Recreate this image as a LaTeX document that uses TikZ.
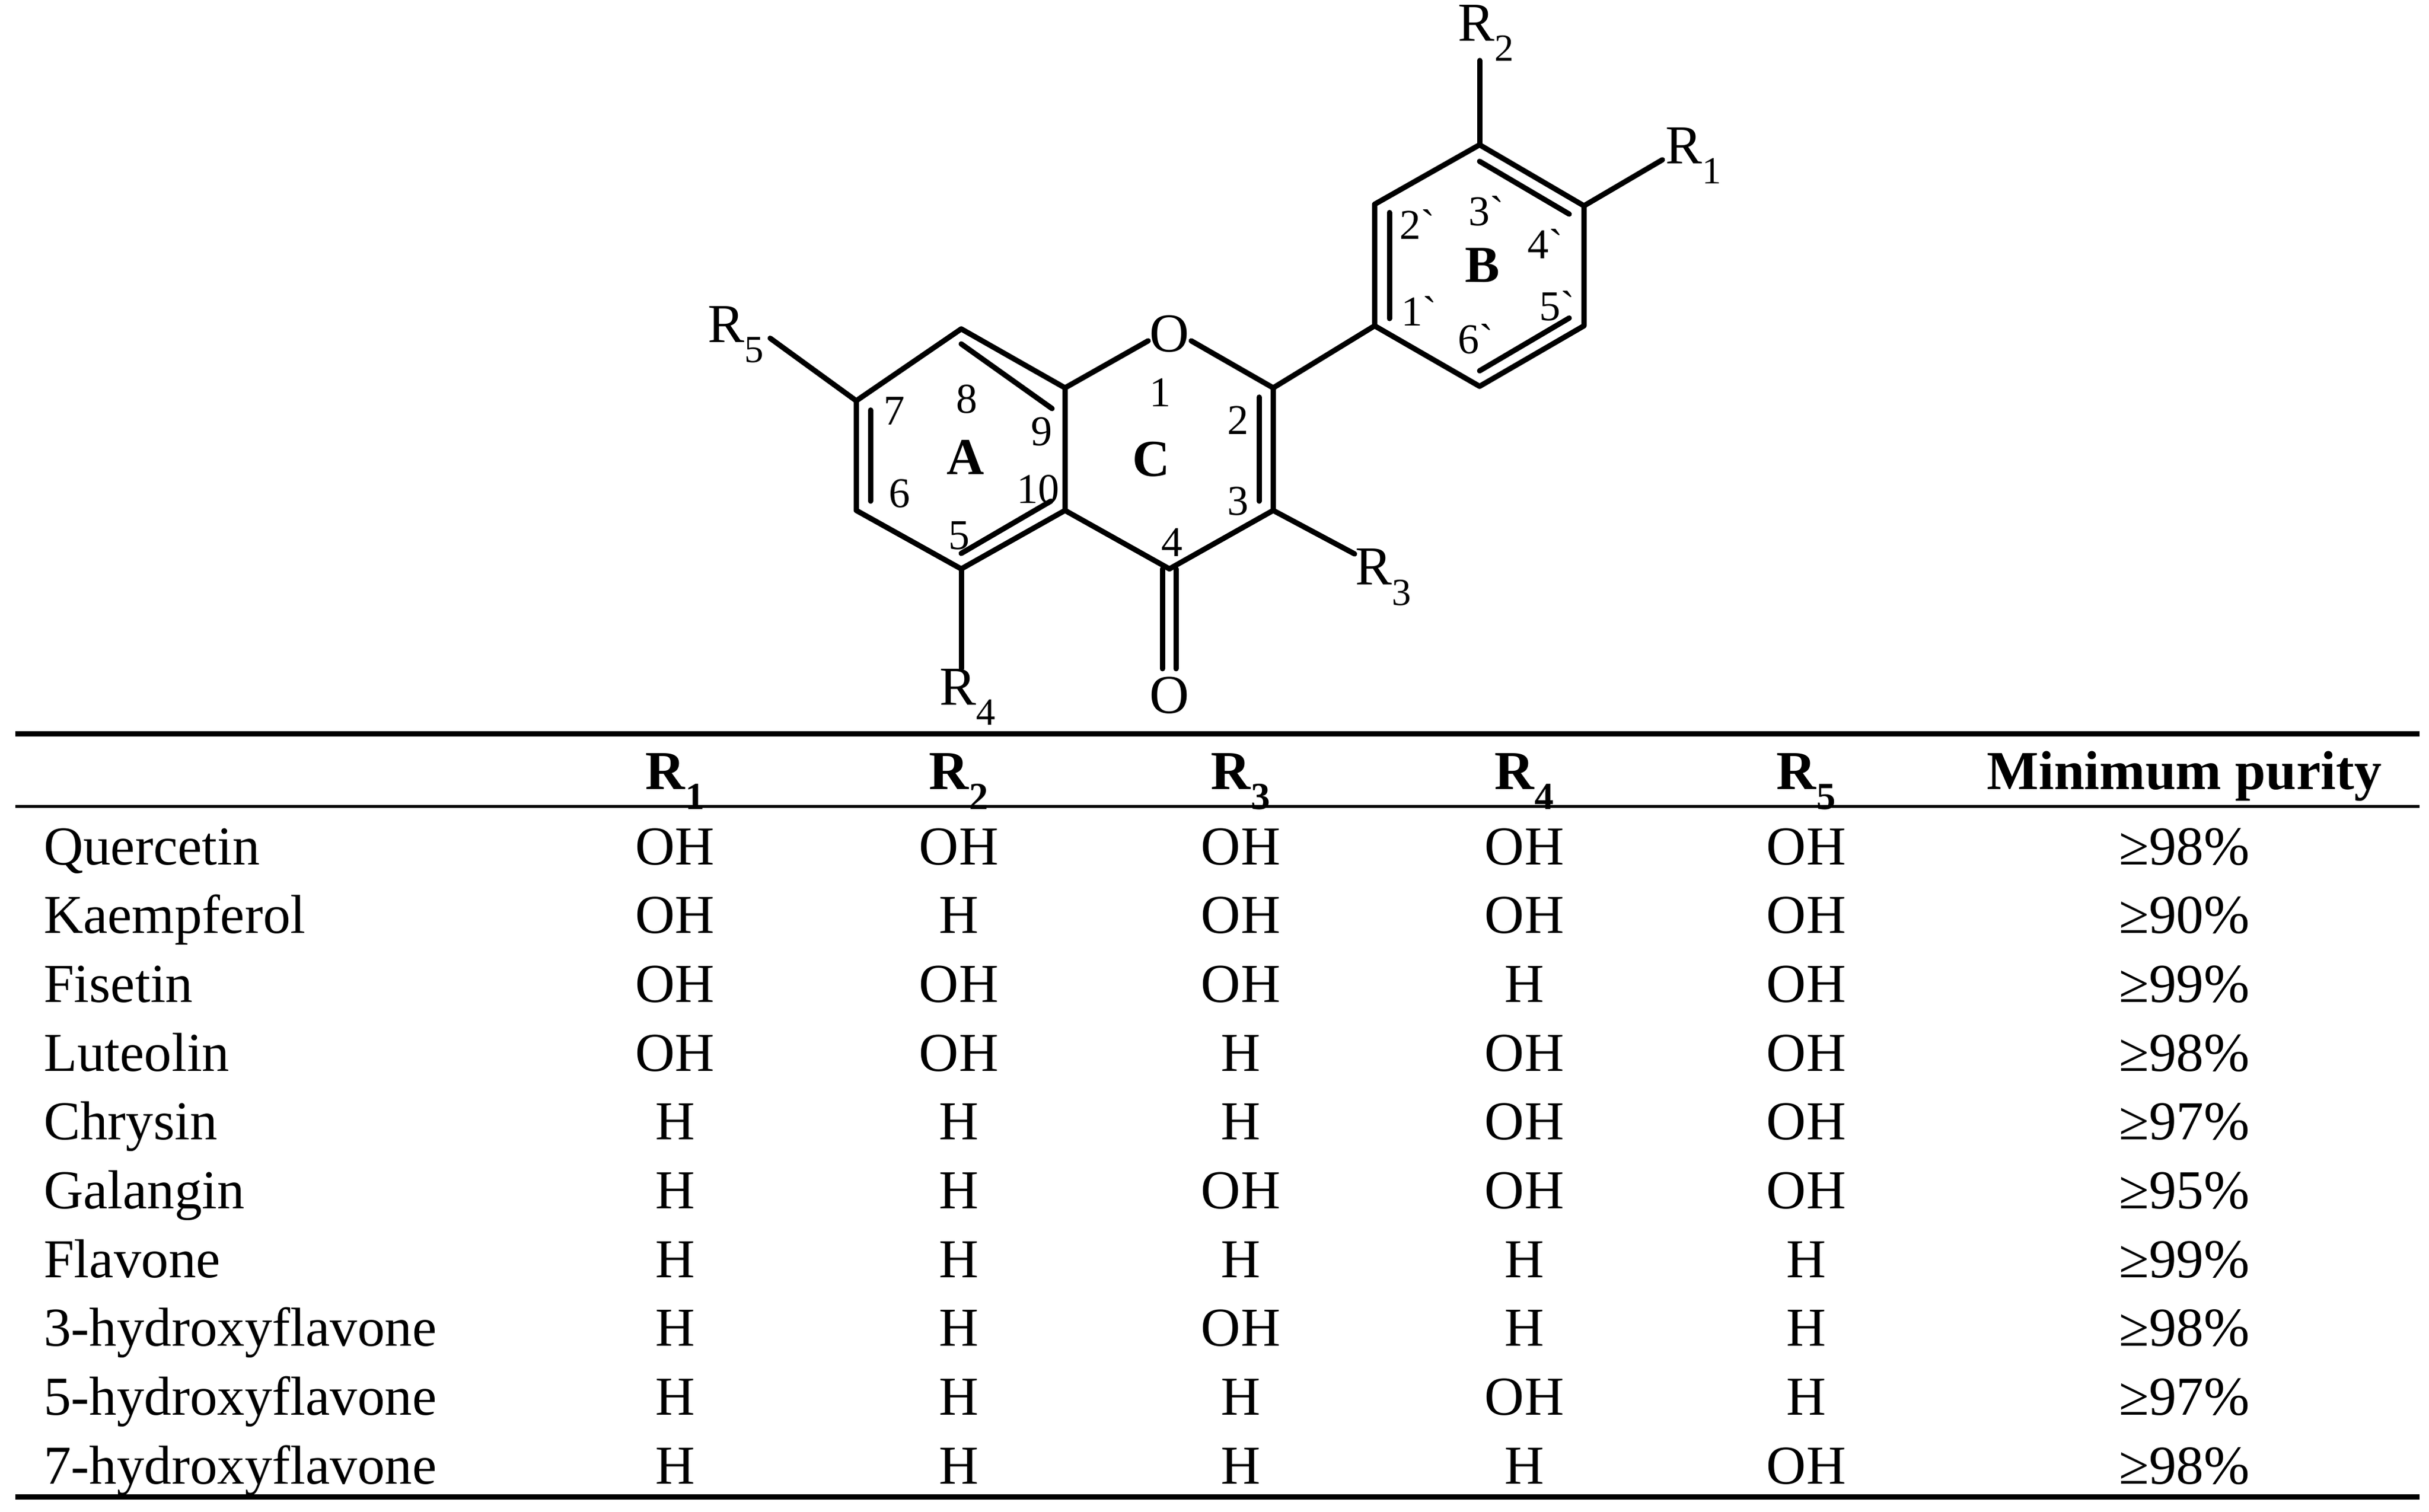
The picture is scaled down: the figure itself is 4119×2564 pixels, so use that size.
\documentclass[tikz,border=0pt]{standalone}
\usepackage{fontspec}
\setmainfont{Liberation Serif}
\newfontfamily\nomapfont{Liberation Serif}
\newcommand{\pr}{{\nomapfont\char"60}}
\begin{document}
\begin{tikzpicture}[x=1pt,y=-1pt,
  bond/.style={line width=9pt,line cap=round,line join=round},
  big/.style={font=\fontsize{93}{100}\selectfont,inner sep=0pt},
  num/.style={font=\fontsize{72}{80}\selectfont,inner sep=0pt},
  ring/.style={font=\fontsize{88}{95}\selectfont\bfseries,inner sep=0pt},
  cell/.style={font=\fontsize{93}{100}\selectfont,inner sep=0pt,anchor=base},
  rowname/.style={cell,anchor=base west},
  head/.style={cell,font=\fontsize{93}{100}\selectfont\bfseries},
  hrule/.style={line width=#1}]
\useasboundingbox (0,0) rectangle (4119,2564);
\begin{scope}[yscale=0.877]
% atoms
\coordinate (c7) at (1452,775); \coordinate (c8) at (1630,636);
\coordinate (c9) at (1806,750); \coordinate (c10) at (1806,987);
\coordinate (c5) at (1630,1100); \coordinate (c6) at (1452,987);
\coordinate (c2) at (2159,750); \coordinate (c3) at (2159,987);
\coordinate (c4) at (1983,1100);
\coordinate (b1) at (2331,630); \coordinate (b2) at (2331,395);
\coordinate (b3) at (2509,280); \coordinate (b4) at (2686,398);
\coordinate (b5) at (2686,630); \coordinate (b6) at (2509,747);
\node[big] (o1) at (1983,645) {O};
\node[big] (o4) at (1983,1344) {O};
\node[big] (r5) at (1248,647) {R\textsubscript{5}};
\node[big] (r4) at (1641,1348) {R\textsubscript{4}};
\node[big] (r3) at (2346,1116) {R\textsubscript{3}};
\node[big] (r2) at (2520,64) {R\textsubscript{2}};
\node[big] (r1) at (2872,301) {R\textsubscript{1}};
\coordinate (r5e) at (1306,654); \coordinate (r4e) at (1630,1293);
\coordinate (r3e) at (2297,1071); \coordinate (r2e) at (2509,117);
\coordinate (r1e) at (2819,309);
% bonds
\draw[bond] (c9) -- (c8) -- (c7) -- (c6) -- (c5) -- (c10) -- (c9) -- (1947,659);
\draw[bond] (2020,659) -- (c2) -- (c3) -- (c4) -- (c10);
\draw[bond] (c2) -- (b1) -- (b2) -- (b3) -- (b4) -- (b5) -- (b6) -- (b1);
\draw[bond] (c7) -- (r5e); \draw[bond] (c5) -- (r4e); \draw[bond] (c3) -- (r3e);
\draw[bond] (b3) -- (r2e); \draw[bond] (b4) -- (r1e);
\draw[bond] (1971,1100) -- (1971,1293); \draw[bond] (1994,1100) -- (1994,1293);
% inner double-bond lines
\draw[bond] (1476,793) -- (1476,969);
\draw[bond] (1630,665) -- (1784,790);
\draw[bond] (1782,969) -- (1630,1070);
\draw[bond] (2135,768) -- (2135,969);
\draw[bond] (2356,411) -- (2356,616);
\draw[bond] (2509,312) -- (2661,414);
\draw[bond] (2661,615) -- (2509,717);
% numbering
\node[num] (n8) at (1639,772) {8}; \node[num] (n7) at (1516,795) {7};
\node[num] (n9) at (1766,835) {9}; \node[num] (n1) at (1967,759) {1};
\node[num] (n2) at (2099,813) {2}; \node[num] (n6) at (1525,954) {6};
\node[num] (n10) at (1760,946) {10}; \node[num] (n3) at (2099,969) {3};
\node[num] (n5) at (1626,1036) {5}; \node[num] (n4) at (1987,1049) {4};
\node[ring] (ra) at (1637,884) {A}; \node[ring] (rc) at (1952,888) {C};
\node[ring] (rb) at (2514,513) {B};
\node[num] (p2) at (2403,434) {2\pr}; \node[num] (p3) at (2520,408) {3\pr};
\node[num] (p4) at (2620,472) {4\pr}; \node[num] (p1) at (2406,602) {1\pr};
\node[num] (p5) at (2640,592) {5\pr}; \node[num] (p6) at (2502,656) {6\pr};
\end{scope}
% table rules
\draw[hrule=9pt] (26,1244) -- (4103,1244);
\draw[hrule=5pt] (26,1367) -- (4103,1367);
\draw[hrule=9pt] (26,2538) -- (4103,2538);
% header
\node[head] (h1) at (1145,1338) {R\textsubscript{1}};
\node[head] (h2) at (1626,1338) {R\textsubscript{2}};
\node[head] (h3) at (2104,1338) {R\textsubscript{3}};
\node[head] (h4) at (2585,1338) {R\textsubscript{4}};
\node[head] (h5) at (3063,1338) {R\textsubscript{5}};
\node[head] (h6) at (3704,1338) {Minimum purity};
% rows
\foreach \n/\a/\b/\c/\d/\e/\p [count=\i from 0] in {
 Quercetin/OH/OH/OH/OH/OH/98,
 Kaempferol/OH/H/OH/OH/OH/90,
 Fisetin/OH/OH/OH/H/OH/99,
 Luteolin/OH/OH/H/OH/OH/98,
 Chrysin/H/H/H/OH/OH/97,
 Galangin/H/H/OH/OH/OH/95,
 Flavone/H/H/H/H/H/99,
 3-hydroxyflavone/H/H/OH/H/H/98,
 5-hydroxyflavone/H/H/H/OH/H/97,
 7-hydroxyflavone/H/H/H/H/OH/98}{
 \pgfmathsetmacro{\yy}{1466+116.7*\i}
 \node[rowname] (nm\i) at (74,\yy) {\n};
 \node[cell] (ca\i) at (1145,\yy) {\a};
 \node[cell] (cb\i) at (1626,\yy) {\b};
 \node[cell] (cc\i) at (2104,\yy) {\c};
 \node[cell] (cd\i) at (2585,\yy) {\d};
 \node[cell] (ce\i) at (3063,\yy) {\e};
 \node[cell] (cp\i) at (3704,\yy) {≥\p\%};
}
\end{tikzpicture}
\end{document}
